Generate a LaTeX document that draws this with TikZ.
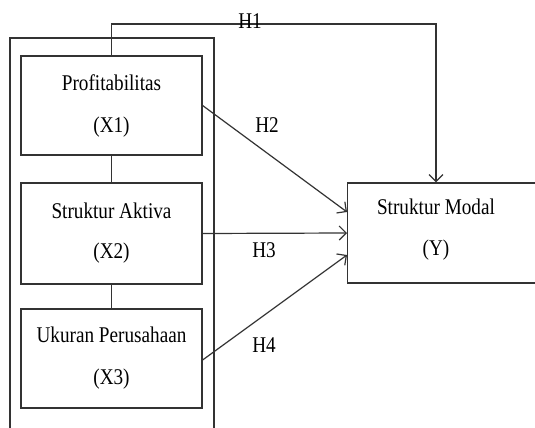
\documentclass[tikz,border=0pt]{standalone}
\usepackage{fontspec}
\usepackage{graphicx}
\setmainfont{Liberation Serif}
\usetikzlibrary{arrows.meta,calc}
\definecolor{ln}{HTML}{333333}
\newcommand\vst[1]{\scalebox{1}[1.17]{#1}}
\tikzset{
  box/.style={draw=ln, line width=1.2pt, minimum width=181pt, inner sep=0pt, align=center, font=\fontsize{19.2}{23}\selectfont},
  conn/.style={draw=ln, line width=1.2pt},
  arr/.style={conn, -{Straight Barb[length=7pt,width=14pt,line width=1.2pt]}},
  hlab/.style={font=\fontsize{19.2}{23}\selectfont, inner sep=0pt}
}
\begin{document}
\begin{tikzpicture}[x=1pt,y=-1pt]
\clip (0,0) rectangle (535,428);
\fill[white] (0,0) rectangle (535,428);
% outer frame (open at the bottom)
\draw[conn] (10,440) -- (10,38) -- (214,38) -- (214,440);
% variable boxes
\node[box, minimum height=99pt] (x1) at (111.5,105.5) {\vst{Profitabilitas}\\[19pt]\vst{(X1)}};
\node[box, minimum height=101pt] (x2) at (111.5,233.5) {\vst{Struktur Aktiva}\\[17pt]\vst{(X2)}};
\node[box, minimum height=99pt] (x3) at (111.5,358.5) {\vst{Ukuran Perusahaan}\\[19pt]\vst{(X3)}};
\node[box, minimum width=200pt, minimum height=100pt, anchor=west] (y1) at (347,233) {};
\node[hlab] (ytxt1) at (436,207) {\vst{Struktur Modal}};
\node[hlab] (ytxt2) at (436,250) {\vst{(Y)}};
% links between boxes
\draw[conn] (x1.south) -- (x2.north);
\draw[conn] (x2.south) -- (x3.north);
% H1
\coordinate (h1) at (436,24);
\draw[arr] (x1.north) |- (h1) -- (y1.north -| h1);
\node[hlab] (lh1) at (250,21) {\vst{H1}};
% H2-H4
\draw[arr] (x1.east) -- ($(y1.west)+(0,-21)$);
\draw[arr] (x2.east) -- (y1.west);
\draw[arr] ($(x3.east)+(0,1.5)$) -- ($(y1.west)+(0,22)$);
\node[hlab] (lh2) at (267,125) {\vst{H2}};
\node[hlab] (lh3) at (264,250) {\vst{H3}};
\node[hlab] (lh4) at (264,345) {\vst{H4}};
\end{tikzpicture}
\end{document}
